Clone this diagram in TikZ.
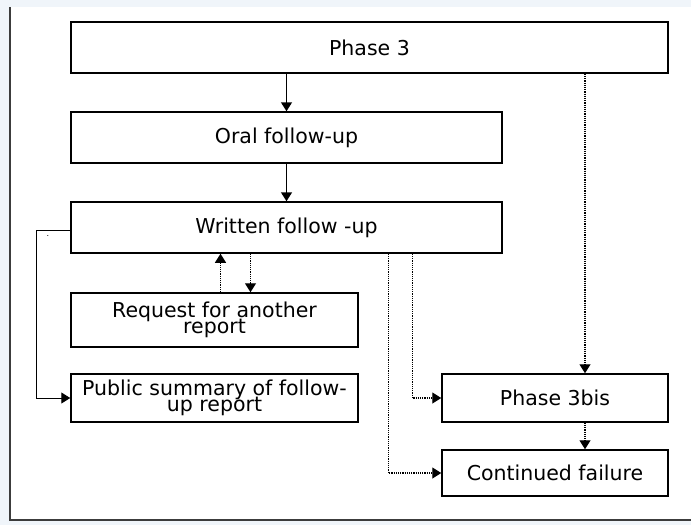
\documentclass[tikz,border=0pt]{standalone}
\usepackage{fontspec}
\usetikzlibrary{arrows.meta}
\newfontfamily\boxfont{DejaVu Sans}
\newcommand\boxtext{\boxfont\fontsize{20.5}{16.5}\selectfont\lineskiplimit=-20pt\relax}
\definecolor{pagebg}{RGB}{240,245,250}
\definecolor{framegray}{RGB}{60,60,60}

\begin{document}
\begin{tikzpicture}[x=1pt, y=-1pt,
    box/.style={draw, line width=1.5pt, inner sep=0pt, align=center, font=\boxtext},
    solidarrow/.style={line width=1.5pt, -{Triangle[length=9pt, width=11pt]}},
    dotarrow/.style={densely dotted, line width=1.2pt, -{Triangle[length=9pt, width=11pt]}},
    thinarrow/.style={line width=1pt, -{Triangle[length=9pt, width=11pt]}}]
        \useasboundingbox (0,0) rectangle (691,525);
        \fill[pagebg] (0,0) rectangle (691,525);
        \fill[white] (10,7) rectangle (691,520);
        \draw[framegray, line width=1.2pt] (10,7) -- (10,520) -- (691,520);

        \node[box, minimum width=597pt, minimum height=51pt] (phase3) at (369.5,47.5) {Phase 3};
        \node[box, minimum width=431pt, minimum height=51pt] (oral) at (286.5,137.5) {Oral follow-up};
        \node[box, minimum width=431pt, minimum height=51pt] (written) at (286.5,227.5) {Written follow -up};
        \node[box, minimum width=287pt, minimum height=54pt] (request) at (214.5,320) {Request for another\\report};
        \node[box, minimum width=287pt, minimum height=48pt] (public) at (214.5,398) {Public summary of follow-\\up report};
        \node[box, minimum width=226pt, minimum height=48pt] (bis) at (555,398) {Phase 3bis};
        \node[box, minimum width=226pt, minimum height=46pt] (failure) at (555,473) {Continued failure};
        \node[font=\boxfont\fontsize{8}{8}\selectfont, inner sep=0pt] (dot) at (48,236) {.};

        \draw[solidarrow] (oral.north |- phase3.south) -- (oral.north);
        \draw[solidarrow] (oral.south) -- (written.north);

        \draw[thinarrow] ([yshift=-2.5pt]written.west) -- ++(-34,0) |- (public.west);

        \draw[dotarrow] ([xshift=6pt]request.north) -- ([xshift=6pt]request.north |- written.south);
        \draw[dotarrow] ([xshift=-36pt]written.south) -- ([xshift=-36pt]written.south |- request.north);

        \draw[dotarrow] ([xshift=126pt]written.south) |- (bis.west);
        \draw[dotarrow] ([xshift=102pt]written.south) |- (failure.west);

        \draw[dotarrow] ([xshift=30pt]bis.north |- phase3.south) -- ([xshift=30pt]bis.north);
        \draw[dotarrow] ([xshift=30pt]bis.south) -- ([xshift=30pt]failure.north);
\end{tikzpicture}
\end{document}
